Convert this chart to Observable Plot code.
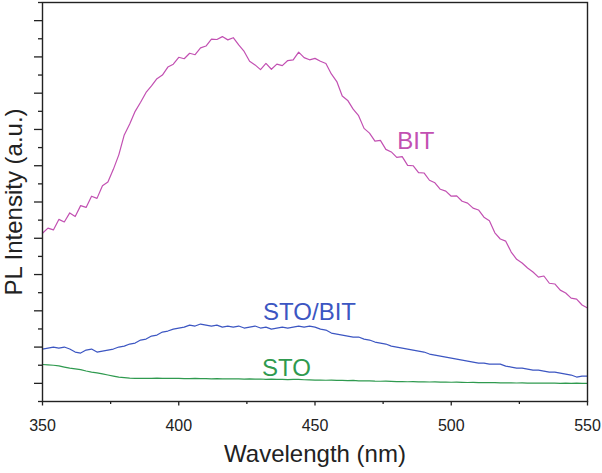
<!DOCTYPE html>
<html>
<head>
<meta charset="utf-8">
<script src="https://cdn.jsdelivr.net/npm/d3@7"></script>
<script src="https://cdn.jsdelivr.net/npm/@observablehq/plot@0.6"></script>
<style>
  html, body { margin: 0; padding: 0; background: #fff; }
</style>
</head>
<body>
<div id="chart"></div>
<script>
// Wavelength grid (nm)
const wavelength = [350,352,354,356,358,360,362,364,366,368,370,372,374,376,378,380,382,384,386,388,390,392,394,396,398,400,402,404,406,408,410,412,414,416,418,420,422,424,426,428,430,432,434,436,438,440,442,444,446,448,450,452,454,456,458,460,462,464,466,468,470,472,474,476,478,480,482,484,486,488,490,492,494,496,498,500,502,504,506,508,510,512,514,516,518,520,522,524,526,528,530,532,534,536,538,540,542,544,546,548,550];

// PL intensity (a.u.)
const bit = [4140,4280,4230,4520,4450,4700,4600,4900,4850,5160,5100,5450,5550,5900,6300,6850,7150,7500,7750,8020,8200,8400,8500,8720,8800,8990,8950,9100,9060,9250,9300,9490,9480,9560,9470,9530,9330,9150,8880,8780,8650,8820,8660,8800,8760,8900,8920,9130,8980,8920,8960,8880,8820,8530,8320,7920,7800,7560,7380,7030,6900,6680,6700,6450,6380,6230,6250,6010,6000,5810,5800,5600,5530,5350,5300,5160,5170,5020,4970,4830,4780,4580,4480,4150,3980,3920,3620,3420,3320,3180,3070,2930,2960,2760,2740,2570,2490,2350,2320,2160,2080];

const stoBit = [946,973,1001,973,1001,946,863,835,918,946,863,891,918,946,1001,1028,1084,1111,1194,1221,1304,1332,1414,1442,1497,1525,1552,1607,1580,1635,1607,1580,1607,1552,1580,1552,1580,1525,1552,1580,1525,1552,1497,1525,1552,1525,1552,1580,1552,1580,1552,1497,1469,1387,1359,1332,1304,1277,1277,1221,1194,1139,1111,1084,1028,1001,973,946,918,891,863,808,780,753,725,698,670,642,615,587,560,560,532,532,532,477,449,422,422,394,367,367,339,312,312,284,256,229,174,201,201];

const sto = [520,510,500,480,450,420,400,380,340,310,290,260,230,200,170,160,145,140,135,140,138,142,136,140,135,138,133,130,135,128,130,126,130,124,127,122,125,118,122,116,120,112,118,108,112,104,110,112,100,95,92,90,86,90,80,84,76,80,70,66,70,62,58,60,54,50,52,45,48,42,44,38,40,34,36,30,32,28,24,26,20,22,18,20,14,16,12,10,14,8,10,6,8,4,6,2,4,0,4,2,0];

const seriesNames = ["BIT", "STO/BIT", "STO"];
const seriesColors = ["#c250b2", "#3c56c2", "#2f9a4f"];
const labelWavelength = [487, 448, 439.5];
const labelIntensity = [6670, 1970, 410];

const xMajor = [350, 400, 450, 500, 550];
const xMinor = [375, 425, 475, 525];
const yMajor = [0,1000,2000,3000,4000,5000,6000,7000,8000,9000,10000];
const yMinor = [-500,500,1500,2500,3500,4500,5500,6500,7500,8500,9500,10500];

const rows = [];
[bit, stoBit, sto].forEach((vals, s) => {
  vals.forEach((v, i) => rows.push({series: seriesNames[s], wl: wavelength[i], v}));
});
const labels = seriesNames.map((name, i) => ({name, wl: labelWavelength[i], v: labelIntensity[i]}));

const color = {domain: seriesNames, range: seriesColors};

const chart = Plot.plot({
  width: 602,
  height: 473,
  marginLeft: 42,
  marginRight: 15,
  marginTop: 2,
  marginBottom: 72,
  style: {fontFamily: "'Liberation Sans', Arial, sans-serif", fontSize: "16px", background: "#fff", color: "#222"},
  x: {domain: [350, 550]},
  y: {domain: [-500, 10500]},
  color,
  marks: [
    Plot.axisX({ticks: xMajor, tickSize: 4.5, tickPadding: 14, strokeWidth: 1.3, fontSize: 16, label: null, tickFormat: d3.format("d")}),
    Plot.axisX({ticks: xMinor, tickSize: 3, strokeWidth: 1.3, text: null, label: null}),
    Plot.axisY({ticks: yMajor, tickSize: 8, strokeWidth: 1.3, text: null, label: null}),
    Plot.axisY({ticks: yMinor, tickSize: 4, strokeWidth: 1.3, text: null, label: null}),
    Plot.line(rows, {x: "wl", y: "v", z: "series", stroke: "series", strokeWidth: 1.2}),
    Plot.frame({stroke: "#222", strokeWidth: 1.4}),
    Plot.text(labels, {x: "wl", y: "v", text: "name", fill: "name", fontSize: 24}),
    Plot.text(["Wavelength (nm)"], {frameAnchor: "bottom", textAnchor: "middle", lineAnchor: "middle", dy: 53, fontSize: 24, fill: "#222"}),
    Plot.text(["PL Intensity (a.u.)"], {frameAnchor: "left", textAnchor: "middle", lineAnchor: "middle", rotate: -90, dx: -28, fontSize: 24, fill: "#222"})
  ]
});
document.getElementById("chart").appendChild(chart);
</script>
</body>
</html>
